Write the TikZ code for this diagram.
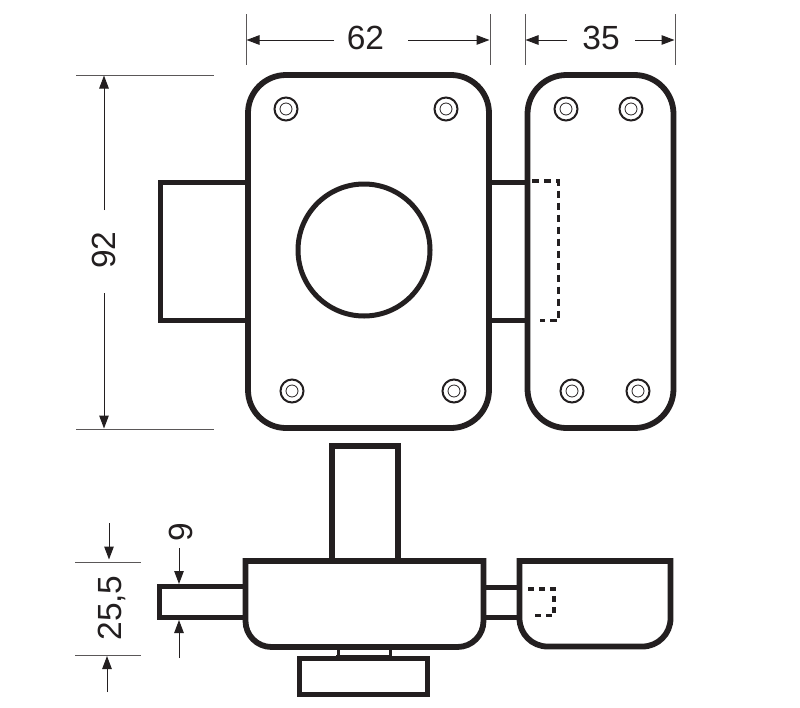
\documentclass[tikz,border=0pt]{standalone}
\usepackage{fontspec}
\setmainfont{Liberation Sans}
\usetikzlibrary{arrows.meta}
\definecolor{ink}{HTML}{231F20}
\tikzset{
  heavy/.style={draw=ink,line width=5.8pt,line join=miter},
  medium/.style={draw=ink,line width=5pt},
  hidden/.style={draw=ink,line width=3.2pt,dash pattern=on 7pt off 5pt},
  ext/.style={draw=ink!75,line width=1pt},
  dimline/.style={draw=ink,line width=1pt,-{Triangle[length=13pt,width=9.5pt]}},
  dimtext/.style={font=\fontsize{33.5}{33.5}\selectfont,text=ink,inner sep=0pt},
  screwout/.style={circle,draw=ink,line width=2pt,minimum size=23pt,inner sep=0pt},
  screwin/.style={circle,draw=ink,line width=.8pt,minimum size=12pt,inner sep=0pt}
}
\newcommand{\screwat}[2]{\node[screwout] (so#1) at (#2) {}; \node[screwin] (si#1) at (#2) {};}
\begin{document}
\begin{tikzpicture}[x=1pt,y=-1pt]
\useasboundingbox (0,0) rectangle (800,707);
% front view
\draw[heavy,rounded corners=38pt] (248,75) rectangle (489,428);
\draw[heavy,rounded corners=39pt] (527.5,75) rectangle (673.5,428);
\draw[medium] (247,182.5) -- (160,182.5) -- (160,320.5) -- (247,320.5);
\draw[medium] (489,182.5) -- (527,182.5);
\draw[medium] (489,320.5) -- (527,320.5);
\draw[hidden] (532,181) -- (558.5,181) -- (558.5,320.5) -- (540,320.5);
\node[circle,draw=ink,line width=5pt,minimum size=132pt,inner sep=0pt] (knob) at (364,250) {};
\screwat{a}{286,109}
\screwat{b}{446,109}
\screwat{c}{292,391}
\screwat{d}{454,391}
\screwat{e}{566,109}
\screwat{f}{631,109}
\screwat{g}{572,391}
\screwat{h}{638,391}
% bottom view
\draw[draw=ink,line width=6.4pt,line join=miter] (332,561) -- (332,446) -- (398,446) -- (398,561);
\draw[heavy] (245.5,561) -- (483.5,561) -- (483.5,622) [rounded corners=26pt] -- (483.5,647) -- (245.5,647) [sharp corners] -- (245.5,561) -- cycle;
\draw[heavy] (245,586.5) -- (159.5,586.5) -- (159.5,617.5) -- (245,617.5);
\draw[draw=ink,line width=5.4pt] (299.5,658.5) rectangle (427.5,694.5);
\draw[draw=ink,line width=3pt] (338,648) -- (338,657) -- (390,657) -- (390,648);
\fill[ink] (336,654.5) rectangle (392,657);
\draw[medium] (484,587) -- (519,587);
\draw[medium] (484,617) -- (519,617);
\draw[heavy] (519.5,561) -- (670.5,561) -- (670.5,620) [rounded corners=28pt] -- (670.5,646.5) -- (519.5,646.5) [sharp corners] -- (519.5,561) -- cycle;
\draw[draw=ink,line width=3.2pt,dash pattern=on 6pt off 5pt] (528,589) -- (554,589) -- (554,615.5) -- (530,615.5);
% dimension 62
\coordinate (e62a) at (246,14); \coordinate (e62b) at (246,65);
\coordinate (e62c) at (490,14); \coordinate (e62d) at (490,65);
\draw[ext] (e62a) -- (e62b); \draw[ext] (e62c) -- (e62d);
\node[dimtext] (t62) at (365.5,38) {62};
\coordinate (a62l) at (334,40); \coordinate (a62r) at (408,40);
\coordinate (h62l) at (246.5,40); \coordinate (h62r) at (489.5,40);
\draw[dimline] (a62l) -- (h62l); \draw[dimline] (a62r) -- (h62r);
% dimension 35
\coordinate (e35a) at (525,14); \coordinate (e35b) at (525,65);
\coordinate (e35c) at (675,14); \coordinate (e35d) at (675,65);
\draw[ext] (e35a) -- (e35b); \draw[ext] (e35c) -- (e35d);
\node[dimtext] (t35) at (601,38) {35};
\coordinate (a35l) at (567,40); \coordinate (a35r) at (635,40);
\coordinate (h35l) at (525.5,40); \coordinate (h35r) at (674.5,40);
\draw[dimline] (a35l) -- (h35l); \draw[dimline] (a35r) -- (h35r);
% dimension 92
\coordinate (e92a) at (76,75); \coordinate (e92b) at (214,75);
\coordinate (e92c) at (76,429); \coordinate (e92d) at (214,429);
\draw[ext] (e92a) -- (e92b); \draw[ext] (e92c) -- (e92d);
\node[dimtext,rotate=90] (t92) at (104,250) {92};
\coordinate (a92t) at (104,210); \coordinate (a92b) at (104,293);
\coordinate (h92t) at (104,75.5); \coordinate (h92b) at (104,428.5);
\draw[dimline] (a92t) -- (h92t); \draw[dimline] (a92b) -- (h92b);
% dimension 25,5
\coordinate (e25a) at (75,562); \coordinate (e25b) at (141,562);
\coordinate (e25c) at (75,655); \coordinate (e25d) at (141,655);
\draw[ext] (e25a) -- (e25b); \draw[ext] (e25c) -- (e25d);
\node[dimtext,rotate=90] (t25) at (112,608) {25,5};
\coordinate (a25t) at (109,523); \coordinate (a25b) at (107,692);
\coordinate (h25t) at (109,559.5); \coordinate (h25b) at (107,656);
\draw[dimline] (a25t) -- (h25t); \draw[dimline] (a25b) -- (h25b);
% dimension 9
\node[dimtext,rotate=90] (t9) at (181,532) {9};
\coordinate (a9t) at (179,548); \coordinate (a9b) at (179,658);
\coordinate (h9t) at (179,584); \coordinate (h9b) at (179,620);
\draw[dimline] (a9t) -- (h9t); \draw[dimline] (a9b) -- (h9b);
\end{tikzpicture}
\end{document}
